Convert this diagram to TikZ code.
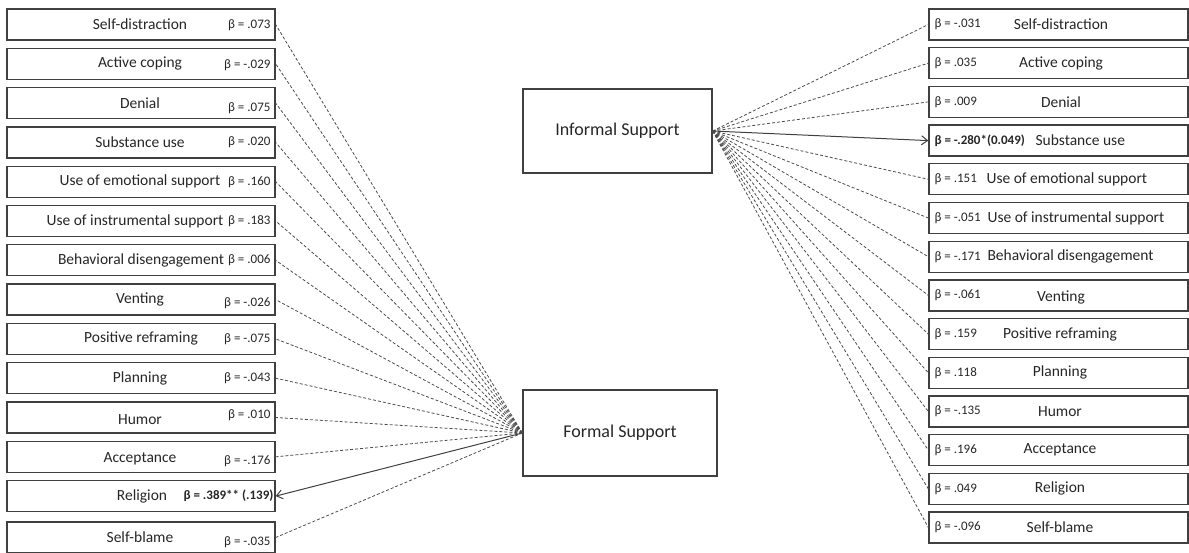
\documentclass[tikz,border=0pt]{standalone}
\usepackage{fontspec}
\setmainfont{Carlito}
\usetikzlibrary{arrows.meta}
\tikzset{>={Straight Barb[length=6pt,width=9pt]}}
\tikzset{
  lbox/.style={draw=black!75,line width=1.3pt,minimum width=268pt,minimum height=31pt,inner sep=0pt},
  rbox/.style={draw=black!75,line width=1.3pt,minimum width=259pt,minimum height=31pt,inner sep=0pt},
  cbox/.style={draw=black!75,line width=1.3pt,inner sep=0pt},
  lab/.style={inner sep=0pt,text=black!85,font=\fontsize{15.5}{17}\selectfont},
  bet/.style={inner sep=0pt,text=black!85,font=\fontsize{13}{15}\selectfont},
  path/.style={black!70,line width=.8pt,dash pattern=on 3pt off 2pt},
  sig/.style={black!75,line width=1pt,->}
}
\newcommand*{\bt}[1]{β = #1}

\begin{document}
\begin{tikzpicture}[x=1pt,y=-1pt]
\useasboundingbox (0,0) rectangle (1189,552);

% Centre boxes
\node[cbox,minimum width=189pt,minimum height=84pt] (IS) at (617.5,131) {};
\node[lab,font=\fontsize{18}{20}\selectfont] (ISt) at (IS.center) {Informal Support};
\node[cbox,minimum width=194pt,minimum height=86pt] (FS) at (620,433) {};
\node[lab,font=\fontsize{18}{20}\selectfont] (FSt) at (FS.center) {Formal Support};

% Left column
\node[lbox] (L1) at (141,24.5) {};
\node[lab] (L1t) at ([xshift=-1pt]L1.center) {Self-distraction};
\node[bet,anchor=east] (L1b) at ([xshift=-5pt,yshift=-1pt]L1.east) {\bt{.073}};
\node[lbox] (L2) at (141,63.8) {};
\node[lab] (L2t) at ([xshift=-1pt]L2.center) {Active coping};
\node[bet,anchor=east] (L2b) at ([xshift=-5pt,yshift=-1pt]L2.east) {\bt{-.029}};
\node[lbox] (L3) at (141,103.1) {};
\node[lab] (L3t) at ([xshift=-1pt]L3.center) {Denial};
\node[bet,anchor=east] (L3b) at ([xshift=-5pt,yshift=-5pt]L3.east) {\bt{.075}};
\node[lbox] (L4) at (141,142.4) {};
\node[lab] (L4t) at ([xshift=-1pt]L4.center) {Substance use};
\node[bet,anchor=east] (L4b) at ([xshift=-5pt]L4.east) {\bt{.020}};
\node[lbox] (L5) at (141,181.7) {};
\node[lab] (L5t) at ([xshift=-1pt]L5.center) {Use of emotional support};
\node[bet,anchor=east] (L5b) at ([xshift=-5pt]L5.east) {\bt{.160}};
\node[lbox] (L6) at (141,221.0) {};
\node[lab] (L6t) at ([xshift=-6pt]L6.center) {Use of instrumental support};
\node[bet,anchor=east] (L6b) at ([xshift=-5pt]L6.east) {\bt{.183}};
\node[lbox] (L7) at (141,260.3) {};
\node[lab] (L7t) at ([xshift=0pt]L7.center) {Behavioral disengagement};
\node[bet,anchor=east] (L7b) at ([xshift=-5pt]L7.east) {\bt{.006}};
\node[lbox] (L8) at (141,299.6) {};
\node[lab] (L8t) at ([xshift=-1pt]L8.center) {Venting};
\node[bet,anchor=east] (L8b) at ([xshift=-5pt,yshift=-4pt]L8.east) {\bt{-.026}};
\node[lbox] (L9) at (141,338.9) {};
\node[lab] (L9t) at ([xshift=0pt]L9.center) {Positive reframing};
\node[bet,anchor=east] (L9b) at ([xshift=-5pt]L9.east) {\bt{-.075}};
\node[lbox] (L10) at (141,378.2) {};
\node[lab] (L10t) at ([xshift=-1pt]L10.center) {Planning};
\node[bet,anchor=east] (L10b) at ([xshift=-5pt]L10.east) {\bt{-.043}};
\node[lbox] (L11) at (141,417.5) {};
\node[lab] (L11t) at ([xshift=-1pt,yshift=-2pt]L11.center) {Humor};
\node[bet,anchor=east] (L11b) at ([xshift=-5pt,yshift=2pt]L11.east) {\bt{.010}};
\node[lbox] (L12) at (141,456.8) {};
\node[lab] (L12t) at ([xshift=-1pt,yshift=-2pt]L12.center) {Acceptance};
\node[bet,anchor=east] (L12b) at ([xshift=-5pt,yshift=-4pt]L12.east) {\bt{-.176}};
\node[lbox] (L13) at (141,496.1) {};
\node[lab] (L13t) at ([xshift=1pt]L13.center) {Religion};
\node[bet,anchor=east,font=\fontsize{13}{15}\selectfont\bfseries] (L13b) at ([xshift=-2pt]L13.east) {\bt{.389** (.139)}};
\node[lbox] (L14) at (141,537.5) {};
\node[lab] (L14t) at ([xshift=-1pt]L14.center) {Self-blame};
\node[bet,anchor=east] (L14b) at ([xshift=-5pt,yshift=-5pt]L14.east) {\bt{-.035}};

% Right column
\node[rbox] (R1) at (1058.5,24.5) {};
\node[bet,anchor=west] (R1b) at ([xshift=6pt]R1.west) {\bt{-.031}};
\node[lab] (R1t) at ([xshift=2.5pt]R1.center) {Self-distraction};
\node[rbox] (R2) at (1058.5,63.2) {};
\node[bet,anchor=west] (R2b) at ([xshift=6pt]R2.west) {\bt{.035}};
\node[lab] (R2t) at ([xshift=2.5pt]R2.center) {Active coping};
\node[rbox] (R3) at (1058.5,101.9) {};
\node[bet,anchor=west] (R3b) at ([xshift=6pt]R3.west) {\bt{.009}};
\node[lab] (R3t) at ([xshift=2.5pt]R3.center) {Denial};
\node[rbox] (R4) at (1058.5,140.6) {};
\node[bet,anchor=west,font=\fontsize{13}{15}\selectfont\bfseries] (R4b) at ([xshift=6pt]R4.west) {\bt{-.280*(0.049)}};
\node[lab,anchor=west] (R4t) at ([xshift=107pt]R4.west) {Substance use};
\node[rbox] (R5) at (1058.5,179.3) {};
\node[bet,anchor=west] (R5b) at ([xshift=6pt]R5.west) {\bt{.151}};
\node[lab,anchor=west] (R5t) at ([xshift=58pt]R5.west) {Use of emotional support};
\node[rbox] (R6) at (1058.5,218.0) {};
\node[bet,anchor=west] (R6b) at ([xshift=6pt]R6.west) {\bt{-.051}};
\node[lab,anchor=west] (R6t) at ([xshift=59pt]R6.west) {Use of instrumental support};
\node[rbox] (R7) at (1058.5,256.7) {};
\node[bet,anchor=west] (R7b) at ([xshift=6pt]R7.west) {\bt{-.171}};
\node[lab,anchor=west] (R7t) at ([xshift=59pt]R7.west) {Behavioral disengagement};
\node[rbox] (R8) at (1058.5,295.4) {};
\node[bet,anchor=west] (R8b) at ([xshift=6pt]R8.west) {\bt{-.061}};
\node[lab] (R8t) at ([xshift=2.5pt,yshift=-2pt]R8.center) {Venting};
\node[rbox] (R9) at (1058.5,334.1) {};
\node[bet,anchor=west] (R9b) at ([xshift=6pt]R9.west) {\bt{.159}};
\node[lab] (R9t) at ([xshift=1.5pt]R9.center) {Positive reframing};
\node[rbox] (R10) at (1058.5,372.8) {};
\node[bet,anchor=west] (R10b) at ([xshift=6pt]R10.west) {\bt{.118}};
\node[lab] (R10t) at ([xshift=1.5pt]R10.center) {Planning};
\node[rbox] (R11) at (1058.5,411.5) {};
\node[bet,anchor=west] (R11b) at ([xshift=6pt]R11.west) {\bt{-.135}};
\node[lab] (R11t) at ([xshift=1.5pt]R11.center) {Humor};
\node[rbox] (R12) at (1058.5,450.2) {};
\node[bet,anchor=west] (R12b) at ([xshift=6pt]R12.west) {\bt{.196}};
\node[lab] (R12t) at ([xshift=1.5pt]R12.center) {Acceptance};
\node[rbox] (R13) at (1058.5,488.9) {};
\node[bet,anchor=west] (R13b) at ([xshift=6pt]R13.west) {\bt{.049}};
\node[lab] (R13t) at ([xshift=1.5pt]R13.center) {Religion};
\node[rbox] (R14) at (1058.5,527.6) {};
\node[bet,anchor=west] (R14b) at ([xshift=6pt]R14.west) {\bt{-.096}};
\node[lab] (R14t) at ([xshift=1.5pt]R14.center) {Self-blame};

% Paths from Formal Support
\draw[path] (FS.west) -- (L1.east);
\draw[path] (FS.west) -- (L2.east);
\draw[path] (FS.west) -- (L3.east);
\draw[path] (FS.west) -- (L4.east);
\draw[path] (FS.west) -- (L5.east);
\draw[path] (FS.west) -- (L6.east);
\draw[path] (FS.west) -- (L7.east);
\draw[path] (FS.west) -- (L8.east);
\draw[path] (FS.west) -- (L9.east);
\draw[path] (FS.west) -- (L10.east);
\draw[path] (FS.west) -- (L11.east);
\draw[path] (FS.west) -- (L12.east);
\draw[sig] (FS.west) -- (L13.east);
\draw[path] (FS.west) -- (L14.east);

% Paths from Informal Support
\draw[path] (IS.east) -- (R1.west);
\draw[path] (IS.east) -- (R2.west);
\draw[path] (IS.east) -- (R3.west);
\draw[sig] (IS.east) -- (R4.west);
\draw[path] (IS.east) -- (R5.west);
\draw[path] (IS.east) -- (R6.west);
\draw[path] (IS.east) -- (R7.west);
\draw[path] (IS.east) -- (R8.west);
\draw[path] (IS.east) -- (R9.west);
\draw[path] (IS.east) -- (R10.west);
\draw[path] (IS.east) -- (R11.west);
\draw[path] (IS.east) -- (R12.west);
\draw[path] (IS.east) -- (R13.west);
\draw[path] (IS.east) -- (R14.west);
\end{tikzpicture}
\end{document}
